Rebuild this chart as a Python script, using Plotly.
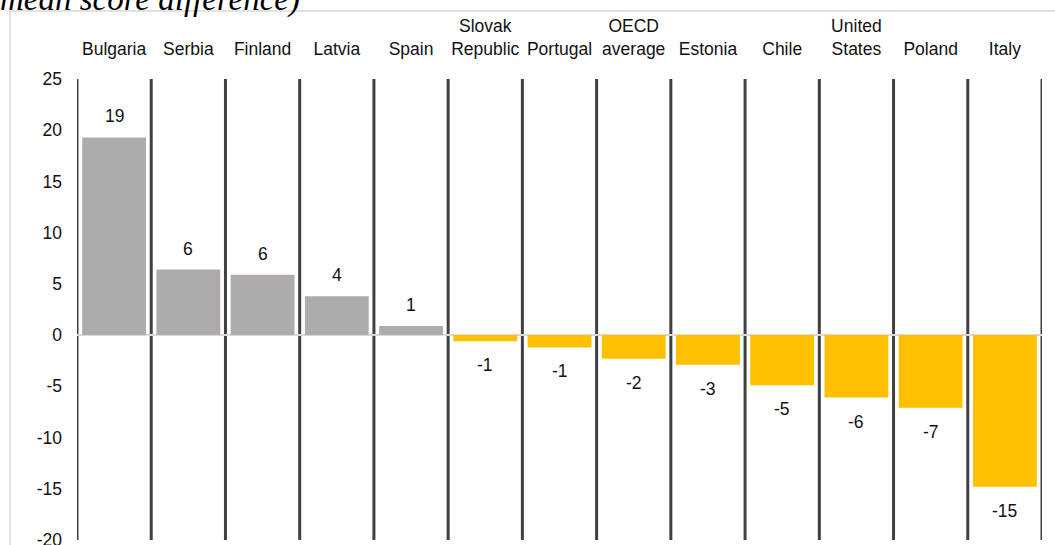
import plotly.graph_objects as go

# Country categories, their axis labels and the mean score differences
countries = ["Bulgaria", "Serbia", "Finland", "Latvia", "Spain", "Slovak Republic",
             "Portugal", "OECD average", "Estonia", "Chile", "United States",
             "Poland", "Italy"]
tick_labels = ["Bulgaria", "Serbia", "Finland", "Latvia", "Spain", "Slovak<br>Republic",
               "Portugal", "OECD<br>average", "Estonia", "Chile", "United<br>States",
               "Poland", "Italy"]
score_diff = [19.3, 6.4, 5.9, 3.8, 0.9, -0.6, -1.2, -2.3, -2.9, -4.9, -6.1, -7.1, -14.8]
y_ticks = [-20, -15, -10, -5, 0, 5, 10, 15, 20, 25]

GREY = "#AFABAB"
GOLD = "#FFC000"
FONT = "Liberation Sans, Arial, sans-serif"
TXT = "#111111"

bar_colors = [GREY if v >= 0 else GOLD for v in score_diff]

fig = go.Figure()
fig.add_trace(go.Bar(
    x=countries, y=score_diff, width=0.86,
    marker=dict(color=bar_colors, line=dict(width=0)),
    hoverinfo="x+y",
))

# Value labels above positive bars and below negative bars
annotations = []
for c, v in zip(countries, score_diff):
    annotations.append(dict(
        x=c, y=v, xref="x", yref="y", text=f"{round(v):d}", showarrow=False,
        yanchor="middle", yshift=21 if v >= 0 else -24,
        font=dict(family=FONT, size=17.5, color=TXT),
    ))

# Partially visible chart title at the top edge
annotations.append(dict(
    x=-0.082, y=1.128, xref="paper", yref="paper", xanchor="left", yanchor="bottom",
    text="mean score difference)", showarrow=False,
    font=dict(family="Liberation Serif, Times New Roman, serif", size=33, color="#000000",
              style="italic"),
))

# Dark separators between categories
shapes = []
for i in range(len(countries) + 1):
    shapes.append(dict(
        type="line", xref="x", yref="y", x0=i - 0.5, x1=i - 0.5, y0=y_ticks[0], y1=y_ticks[-1],
        line=dict(color="#404040", width=3), layer="below",
    ))

# Light frame on the left and top
shapes.append(dict(
    type="path", xref="paper", yref="paper",
    path="M -0.0694,-0.02 L -0.0694,1.1475 L 1.02,1.1475",
    line=dict(color="#d9d9d9", width=1.5),
))

fig.update_layout(
    width=1055, height=545,
    margin=dict(l=77, r=13, t=79, b=5),
    paper_bgcolor="white", plot_bgcolor="white",
    showlegend=False,
    bargap=0.14,
    font=dict(family=FONT, size=17.5, color=TXT),
    xaxis=dict(
        side="top", tickmode="array", tickvals=countries, ticktext=tick_labels,
        range=[-0.5, len(countries) - 0.5], showgrid=False, zeroline=False,
        showline=False, ticks="", ticklabelstandoff=20, automargin=False,
        tickfont=dict(family=FONT, size=17.5, color=TXT),
    ),
    yaxis=dict(
        range=[y_ticks[0], y_ticks[-1]], tickmode="array", tickvals=y_ticks,
        ticktext=[str(t) for t in y_ticks], ticklabeloverflow="allow",
        showgrid=False, zeroline=True, zerolinecolor="#d9d9d9", zerolinewidth=2,
        showline=False, ticks="", ticklabelstandoff=14, automargin=False,
        tickfont=dict(family=FONT, size=17.5, color=TXT),
    ),
    annotations=annotations,
    shapes=shapes,
)

fig.write_html("out.html")
